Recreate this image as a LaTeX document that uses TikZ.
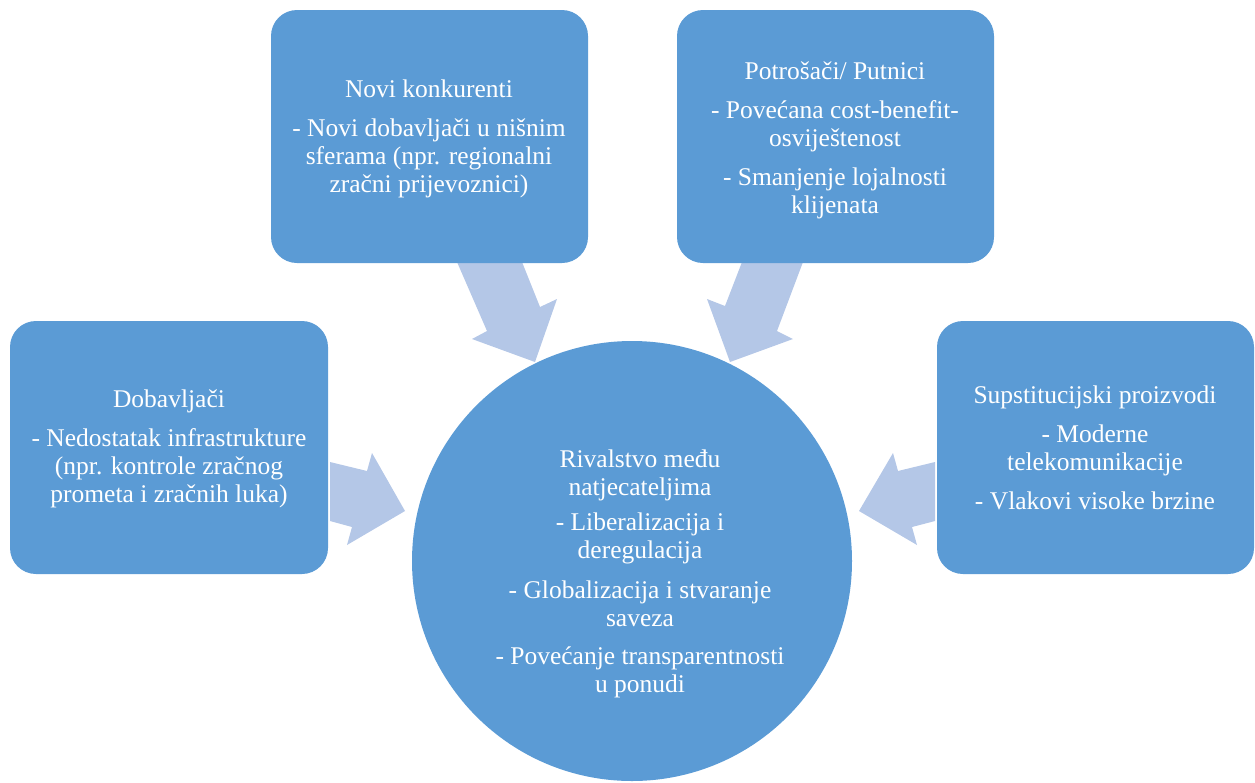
\documentclass[tikz,border=0pt]{standalone}
\usepackage{fontspec}
\setmainfont{Liberation Serif}
\definecolor{boxblue}{HTML}{5B9BD5}
\definecolor{arrowblue}{HTML}{B4C7E7}
\begin{document}
\begin{tikzpicture}[x=1pt,y=-1pt,
  force/.style={fill=boxblue, rounded corners=26pt},
  blockarrow/.style={fill=arrowblue},
  txt/.style={text=white, align=center, font=\fontsize{25.5}{28}\selectfont, inner sep=0pt}]
\useasboundingbox (0,0) rectangle (1255,782);
% block arrows
\fill[blockarrow] (330,462) -- (367,471) -- (372,453) -- (405,511) -- (347,545) -- (352,527) -- (330,521) -- cycle;
\fill[blockarrow] (457,262) -- (522,262) -- (540,307) -- (557,299) -- (535,362) -- (472,339) -- (487,331) -- cycle;
\fill[blockarrow] (742,262) -- (803,262) -- (777,331) -- (793,339) -- (730,362) -- (707,299) -- (725,306) -- cycle;
\fill[blockarrow] (935,462) -- (898,471) -- (893,453) -- (859,511) -- (917,545) -- (912,527) -- (935,521) -- cycle;
% boxes
\fill[force] (10,321) rectangle (328,574);
\fill[force] (271,10) rectangle (588,263);
\fill[force] (677,10) rectangle (994,263);
\fill[force] (937,321) rectangle (1254,574);
\fill[boxblue] (632,561) circle (220);
% texts
\node[txt] (sup) at (169,449) {Dobavljači\\[11pt]- Nedostatak infrastrukture\\(npr. kontrole zračnog\\prometa i zračnih luka)};
\node[txt] (new) at (429,139) {Novi konkurenti\\[11pt]- Novi dobavljači u nišnim\\sferama (npr. regionalni\\zračni prijevoznici)};
\node[txt] (buy) at (835,140) {Potrošači/ Putnici\\[11pt]- Povećana cost-benefit-\\osviještenost\\[11pt]- Smanjenje lojalnosti\\klijenata};
\node[txt] (sub) at (1095,448) {Supstitucijski proizvodi\\[11pt]- Moderne\\telekomunikacije\\[11pt]- Vlakovi visoke brzine};
\node[txt] (riv) at (640,574) {Rivalstvo među\\natjecateljima\\[7pt]- Liberalizacija i\\deregulacija\\[12pt]- Globalizacija i stvaranje\\saveza\\[10pt]- Povećanje transparentnosti\\u ponudi};
\end{tikzpicture}
\end{document}
